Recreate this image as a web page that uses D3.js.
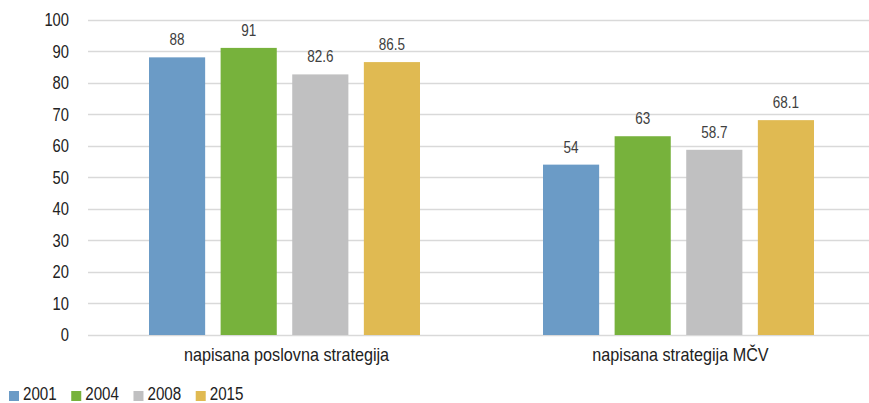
<!DOCTYPE html>
<html><head><meta charset="utf-8">
<script src="https://cdn.jsdelivr.net/npm/d3@7"></script>
<style>
body{margin:0;background:#fff;}
text{font-family:"Liberation Sans Narrow","Liberation Sans",Arial,sans-serif;}
</style></head>
<body><svg id="c" width="869" height="403"></svg>
<script>
const categories = ["napisana poslovna strategija", "napisana strategija MČV"];
const seriesNames = ["2001", "2004", "2008", "2015"];
const values2001 = [88, 54];
const values2004 = [91, 63];
const values2008 = [82.6, 58.7];
const values2015 = [86.5, 68.1];
const yTicks = [0, 10, 20, 30, 40, 50, 60, 70, 80, 90, 100];
const colors = ["#6b9bc6", "#77b23c", "#c0c0c1", "#e0ba52"];

const seriesValues = [values2001, values2004, values2008, values2015];
const svg = d3.select("#c");
const y = d3.scaleLinear().domain([0, 100]).range([335, 19.5]);
const x0 = d3.scaleBand().domain(categories).range([87.5, 875.5]);
const x1 = d3.scaleBand().domain(seriesNames).range([61.5, 332.5]).paddingInner(0.216);
const NUM_SX = 0.82, TXT_SX = 0.9;

// gridlines
svg.append("g").selectAll("line").data(yTicks).join("line")
  .attr("x1", 88).attr("x2", 869)
  .attr("y1", d => Math.round(y(d)) + 0.5).attr("y2", d => Math.round(y(d)) + 0.5)
  .attr("stroke", "#d9d9d9").attr("stroke-width", 1.3);

// y tick labels
svg.append("g").selectAll("text").data(yTicks).join("text")
  .attr("transform", d => `translate(69,${y(d)}) scale(${NUM_SX},1)`)
  .attr("dy", "0.36em")
  .attr("text-anchor", "end").attr("font-size", 18).attr("fill", "#222")
  .text(d => d);

// bars
const rows = [];
categories.forEach((c, ci) => seriesNames.forEach((s, si) => rows.push({c, s, si, v: seriesValues[si][ci]})));
const g = svg.append("g");
g.selectAll("rect").data(rows).join("rect")
  .attr("x", d => x0(d.c) + x1(d.s)).attr("width", x1.bandwidth())
  .attr("y", d => y(d.v)).attr("height", d => y(0) - y(d.v))
  .attr("fill", d => colors[d.si]);

g.selectAll("text").data(rows).join("text")
  .attr("transform", d => `translate(${x0(d.c) + x1(d.s) + x1.bandwidth() / 2},${y(d.v) - 12}) scale(${NUM_SX},1)`)
  .attr("text-anchor", "middle").attr("font-size", 16.5).attr("fill", "#404040")
  .text(d => d.v);

// category labels
svg.append("g").selectAll("text").data(categories).join("text")
  .attr("transform", d => `translate(${x0(d) + x0.bandwidth() / 2 + 2},361) scale(${TXT_SX},1)`)
  .attr("text-anchor", "middle").attr("font-size", 18).attr("fill", "#222")
  .text(d => d);

// legend
const leg = svg.append("g");
let lx = 9;
seriesNames.forEach((s, i) => {
  leg.append("rect").attr("x", lx).attr("y", 391).attr("width", 10).attr("height", 10).attr("fill", colors[i]);
  const t = leg.append("text").attr("transform", `translate(${lx + 14},400) scale(${NUM_SX},1)`)
    .attr("font-size", 18.5).attr("fill", "#222").text(s);
  lx += 14 + t.node().getComputedTextLength() * NUM_SX + 14.5;
});
</script></body></html>
